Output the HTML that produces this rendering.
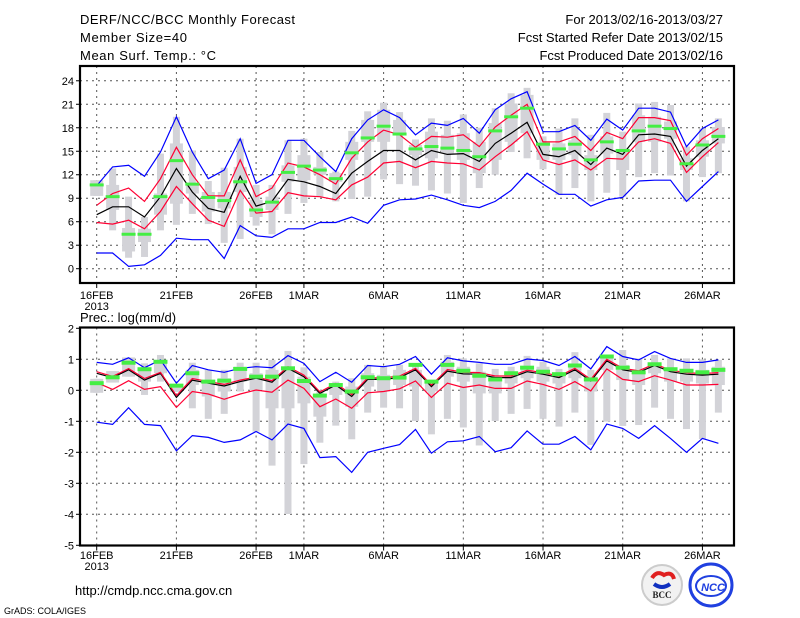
<!DOCTYPE html>
<html><head><meta charset="utf-8"><style>
html,body{margin:0;padding:0;background:#fff;}
svg{display:block;font-family:"Liberation Sans",sans-serif;}
</style></head><body>
<svg id="chart" width="800" height="618" viewBox="0 0 800 618" xmlns="http://www.w3.org/2000/svg">
<g font-size="13" fill="#000">
<text x="80" y="24" textLength="215">DERF/NCC/BCC Monthly Forecast</text>
<text x="80" y="42" textLength="107">Member Size=40</text>
<text x="80" y="60" textLength="136">Mean Surf. Temp.: °C</text>
<text x="723" y="24" text-anchor="end">For 2013/02/16-2013/03/27</text>
<text x="723" y="42" text-anchor="end">Fcst Started Refer Date 2013/02/15</text>
<text x="723" y="60" text-anchor="end">Fcst Produced Date 2013/02/16</text>
<text x="80" y="322">Prec.: log(mm/d)</text>
<text x="75" y="595" font-size="13">http://cmdp.ncc.cma.gov.cn</text>
<text x="4" y="614" font-size="9">GrADS: COLA/IGES</text>
</g>
<g>
<circle cx="662" cy="585" r="20" fill="#f2f2f2" stroke="#ccc" stroke-width="2"/>
<path d="M652 578 q5 -8 12 -3 q8 -4 10 4" fill="none" stroke="#e02020" stroke-width="4"/>
<path d="M654 584 q8 6 16 0" fill="none" stroke="#1030c0" stroke-width="4"/>
<text x="662" y="598" font-size="9" font-weight="bold" text-anchor="middle" fill="#222" font-family="Liberation Serif,serif">BCC</text>
</g>
<g>
<circle cx="711" cy="585" r="21" fill="#fff" stroke="#2040e0" stroke-width="3"/>
<ellipse cx="711" cy="586" rx="15" ry="10" fill="none" stroke="#2040e0" stroke-width="2"/>
<text x="713" y="591" font-size="11" font-style="italic" font-weight="bold" text-anchor="middle" fill="#2040e0">NCC</text>
</g>
<g id="top"></g>
<g id="bot"></g>
</svg>
<script>
// ---- data ----
const dateLabels = ["16FEB","21FEB","26FEB","1MAR","6MAR","11MAR","16MAR","21MAR","26MAR"];
const dateIdx = [0,5,10,13,18,23,28,33,38];
const tTicks = [0,3,6,9,12,15,18,21,24];
const pTicks = [-5,-4,-3,-2,-1,0,1,2];

const tMax = [10.6,13.0,13.2,11.8,14.9,19.4,14.9,11.5,12.6,16.6,10.9,12.0,16.4,16.4,14.3,12.4,16.6,19.0,20.3,19.3,17.1,18.6,18.3,19.2,17.3,20.3,21.7,22.6,17.5,17.5,18.3,16.4,19.1,17.7,20.5,20.5,20.0,15.6,17.9,19.0];
const tUp = [8.1,9.6,10.3,8.6,11.5,15.5,12.0,9.3,9.3,13.9,9.2,10.3,13.5,13.0,12.0,10.8,14.1,16.2,17.7,17.1,15.5,16.9,16.8,17.1,15.6,18.1,19.6,21.0,16.2,16.2,16.9,15.1,17.4,16.6,19.3,19.3,18.9,14.5,16.6,17.9];
const tMean = [6.9,7.9,7.9,6.6,9.2,12.8,9.8,7.7,7.2,11.8,8.0,8.6,11.4,11.1,10.5,9.6,12.2,13.7,15.1,15.1,13.9,15.1,14.6,14.7,13.7,16.0,17.3,18.7,14.6,14.3,15.1,13.3,15.4,14.6,17.1,17.2,16.9,13.1,15.1,16.6];
const tLow = [5.9,5.7,6.2,5.1,7.3,10.5,8.3,6.2,5.4,10.0,7.1,7.3,9.7,9.3,9.2,8.8,10.7,11.7,13.5,13.7,12.9,13.7,13.5,13.4,12.6,14.3,15.8,17.5,13.9,13.3,13.9,12.6,14.1,14.0,16.2,16.6,16.0,12.3,14.3,16.1];
const tMin = [2.0,2.0,0.3,0.5,1.7,3.9,3.7,3.7,1.3,5.5,4.2,4.0,5.1,5.1,5.9,5.9,6.6,5.8,8.1,8.8,8.9,9.4,8.8,8.1,7.8,8.6,10.0,12.2,10.8,9.5,9.5,8.0,8.8,9.1,11.2,11.3,11.3,8.6,10.5,12.4];
const tObs = [10.7,9.2,4.4,4.4,9.2,13.8,10.8,9.1,8.7,11.1,7.5,8.5,12.3,13.1,12.6,11.5,14.8,16.7,18.2,17.2,15.3,15.6,15.4,15.1,14.3,17.6,19.4,20.5,15.9,15.3,15.9,13.9,16.2,15.1,17.6,18.2,17.9,13.4,15.8,16.9];
const tBarLo = [9.3,4.9,1.4,1.5,4.9,5.6,7.0,5.7,3.3,3.8,5.5,4.4,7.0,8.4,9.2,8.6,8.9,9.2,11.4,10.8,10.6,10.0,9.6,8.4,10.3,12.0,14.9,14.1,12.7,9.4,10.3,8.6,9.7,9.2,11.7,12.2,11.9,8.6,11.7,12.2];
const tBarHi = [11.3,12.8,9.2,6.6,14.7,19.4,15.1,11.2,12.9,16.6,10.7,10.7,16.4,16.6,14.9,12.4,17.6,20.1,21.2,20.0,16.5,19.2,18.9,19.7,18.0,20.5,22.4,23.1,16.9,17.9,19.2,17.1,19.9,17.5,21.1,21.3,20.9,15.6,17.9,19.2];
const tBoxLo = [9.3,7.5,2.2,3.4,6.9,8.3,9.6,7.3,7.7,9.8,6.6,7.5,11.1,11.3,12.0,11.1,13.9,16.2,16.2,17.1,14.5,14.1,14.7,13.9,12.2,13.9,16.2,17.3,13.9,13.9,14.5,12.6,14.7,12.6,16.2,16.2,16.6,12.6,14.3,16.0];
const tBoxHi = [11.3,10.7,5.2,5.1,9.6,16.0,10.9,9.8,9.8,13.0,8.8,9.2,13.2,14.5,13.0,12.2,16.2,19.0,20.3,19.0,15.8,17.5,17.1,17.3,16.2,18.6,21.1,22.2,16.0,16.0,16.4,14.5,16.9,15.1,19.6,19.4,18.8,14.1,16.4,18.1];

const pMax = [0.9,0.84,1.05,0.73,0.98,0.23,0.8,0.66,0.58,0.71,0.76,0.73,1.12,0.87,0.28,0.58,0.26,0.8,0.76,0.84,1.09,0.52,1.05,0.95,0.9,0.84,0.84,1.01,0.96,0.8,1.09,0.69,1.41,1.09,0.98,1.25,1.03,0.9,0.9,0.98];
const pUp = [0.6,0.45,0.7,0.38,0.58,-0.17,0.38,0.28,0.19,0.33,0.43,0.31,0.76,0.49,-0.05,0.22,-0.14,0.4,0.4,0.46,0.71,0.17,0.67,0.58,0.57,0.46,0.46,0.65,0.57,0.46,0.71,0.35,1.0,0.71,0.63,0.85,0.65,0.57,0.54,0.57];
const pMean = [0.55,0.41,0.66,0.33,0.55,-0.23,0.33,0.23,0.14,0.28,0.39,0.26,0.71,0.44,-0.1,0.17,-0.2,0.35,0.35,0.41,0.66,0.12,0.62,0.53,0.52,0.41,0.41,0.6,0.52,0.41,0.66,0.3,0.95,0.66,0.58,0.8,0.6,0.52,0.49,0.52];
const pLow = [0.25,0.03,0.31,0.03,0.12,-0.55,-0.04,-0.12,-0.29,-0.12,0.01,-0.06,0.33,0.06,-0.53,-0.28,-0.58,-0.08,-0.04,0.05,0.3,-0.23,0.23,0.09,0.17,0.06,0.06,0.3,0.19,0.03,0.28,-0.02,0.69,0.35,0.28,0.47,0.33,0.17,0.17,0.19];
const pMin = [-1.03,-1.1,-0.56,-1.1,-1.14,-1.95,-1.46,-1.52,-1.68,-1.6,-1.33,-1.6,-1.09,-1.23,-2.17,-2.14,-2.65,-2.0,-1.87,-1.75,-1.26,-2.03,-1.66,-1.63,-1.49,-1.98,-1.85,-1.31,-1.74,-1.74,-1.49,-1.92,-1.09,-1.23,-1.55,-1.14,-1.55,-2.0,-1.55,-1.71];
const pObs = [0.23,0.42,0.89,0.68,0.92,0.15,0.55,0.28,0.31,0.69,0.44,0.44,0.71,0.3,-0.17,0.17,-0.04,0.42,0.39,0.41,0.82,0.28,0.82,0.63,0.47,0.35,0.55,0.73,0.6,0.52,0.8,0.35,1.09,0.73,0.58,0.84,0.68,0.63,0.58,0.66];
const pBarLo = [-0.08,0.25,0.44,-0.15,0.28,-0.05,-0.58,-0.92,-0.76,-0.04,-1.33,-2.43,-3.99,-2.38,-1.69,-1.14,-1.58,-0.72,-0.56,-0.58,-0.99,-1.42,-0.92,-1.2,-1.78,-0.99,-0.76,-0.6,-0.92,-1.17,-0.72,-1.76,-1.01,-1.15,-1.12,-0.56,-0.92,-1.25,-1.57,-0.72];
const pBarHi = [0.37,0.62,1.06,0.87,1.14,0.2,0.89,0.66,0.66,0.89,0.89,0.98,1.27,0.74,0.0,0.28,0.39,0.82,0.76,0.82,0.82,0.19,1.14,1.03,0.87,0.69,0.76,1.11,0.92,0.69,1.23,0.66,1.14,1.3,1.03,1.14,1.03,1.03,1.0,0.98];
const pBoxLo = [-0.08,0.25,0.44,0.28,0.55,-0.05,0.17,-0.2,-0.04,0.28,0.01,-0.58,-0.58,-0.42,-0.85,-0.15,-0.53,0.12,-0.04,0.17,0.12,-0.04,0.44,0.28,-0.1,-0.1,0.22,0.39,0.28,0.22,0.39,-0.04,0.66,0.33,0.17,0.55,0.28,0.28,0.22,0.17];
const pBoxHi = [0.37,0.62,1.06,0.66,0.98,0.2,0.66,0.33,0.39,0.76,0.55,0.66,0.76,0.44,-0.2,0.22,0.12,0.55,0.5,0.66,0.66,0.33,0.92,0.76,0.6,0.44,0.5,0.76,0.76,0.55,0.76,0.44,1.03,0.82,0.66,0.87,0.71,0.66,0.66,0.76];

// ---- layout ----
const NS = "http://www.w3.org/2000/svg";
const X0 = 96.7, DX = 15.94, LEFT = 80, RIGHT = 734;
const xd = d => X0 + d * DX;
const yT = v => 268.7 - v * 7.83;
const yP = v => 390.3 - v * 31;

function mk(parent, tag, attrs) {
  const e = document.createElementNS(NS, tag);
  for (const k in attrs) e.setAttribute(k, attrs[k]);
  parent.appendChild(e);
  return e;
}

function panel(g, top, bottom, ticks, yf, series, bars, greenH, boxW, whW, labelY) {
  // grid
  ticks.forEach(v => {
    const y = yf(v);
    if (y > top + 1 && y < bottom - 1) {
      const l = mk(g, "line", {x1: LEFT, x2: RIGHT, y1: y, y2: y, stroke: "#555", "stroke-width": 1, "stroke-dasharray": "2,4"});
      
      
    }
    const t = mk(g, "text", {x: 74, y: y + 4, "text-anchor": "end", "font-size": 11});
    t.textContent = v;
    
    
    const tk = mk(g, "line", {x1: LEFT - 4, x2: LEFT, y1: y, y2: y, stroke: "#000"});
    
    
  });
  dateIdx.forEach((d, i) => {
    const x = xd(d);
    const l = mk(g, "line", {x1: x, x2: x, y1: top, y2: bottom, stroke: "#555", "stroke-width": 1, "stroke-dasharray": "2,4"});
    
    
    const tk = mk(g, "line", {x1: x, x2: x, y1: bottom, y2: bottom + 5, stroke: "#000"});
    
    
    const t = mk(g, "text", {x: x, y: labelY, "text-anchor": "middle", "font-size": 11});
    t.textContent = dateLabels[i];
    
    
  });
  const yr = mk(g, "text", {x: xd(0), y: labelY + 11, "text-anchor": "middle", "font-size": 11});
  yr.textContent = "2013";
  
  
  // bars
  bars.lo.forEach((lo, d) => {
    const x = xd(d);
    const w = mk(g, "rect", {x: x - whW / 2, y: yf(bars.hi[d]), width: whW, height: Math.max(1, yf(lo) - yf(bars.hi[d])), fill: "#d3d3d8"});
    
    
    const b = mk(g, "rect", {x: x - boxW / 2, y: yf(bars.q3[d]), width: boxW, height: Math.max(1, yf(bars.q1[d]) - yf(bars.q3[d])), fill: "#d3d3d8"});
    
    
  });
  // lines
  series.forEach(s => {
    const p = mk(g, "polyline", {points: s.v.map((v, d) => xd(d).toFixed(1) + "," + yf(v).toFixed(1)).join(" "), fill: "none", stroke: s.c, "stroke-width": 1.2});
    
    
  });
  // obs marks
  bars.obs.forEach((v, d) => {
    const r = mk(g, "rect", {x: xd(d) - 7, y: yf(v) - greenH / 2, width: 14, height: greenH, fill: "#44ee44"});
    
    
  });
  const f = mk(g, "rect", {x: LEFT, y: top, width: RIGHT - LEFT, height: bottom - top, fill: "none", stroke: "#000", "stroke-width": 2.2});
  
  
}

panel(document.getElementById("top"), 66, 283, tTicks, yT,
  [{v: tMax, c: "#0000ff", n: "ensemble-max-line"}, {v: tMin, c: "#0000ff", n: "ensemble-min-line"},
   {v: tUp, c: "#ff0033", n: "upper-bound-line"}, {v: tLow, c: "#ff0033", n: "lower-bound-line"},
   {v: tMean, c: "#000000", n: "ensemble-mean-line"}],
  {lo: tBarLo, hi: tBarHi, q1: tBoxLo, q3: tBoxHi, obs: tObs}, 3, 13, 7, 299);

panel(document.getElementById("bot"), 327.5, 545.5, pTicks, yP,
  [{v: pMax, c: "#0000ff", n: "ensemble-max-line"}, {v: pMin, c: "#0000ff", n: "ensemble-min-line"},
   {v: pLow, c: "#ff0033", n: "lower-bound-line"}, {v: pMean, c: "#000000", n: "ensemble-mean-line"},
   {v: pUp, c: "#ff0033", n: "upper-bound-line"}],
  {lo: pBarLo, hi: pBarHi, q1: pBoxLo, q3: pBoxHi, obs: pObs}, 4, 13, 7, 559);
</script>
</body></html>
